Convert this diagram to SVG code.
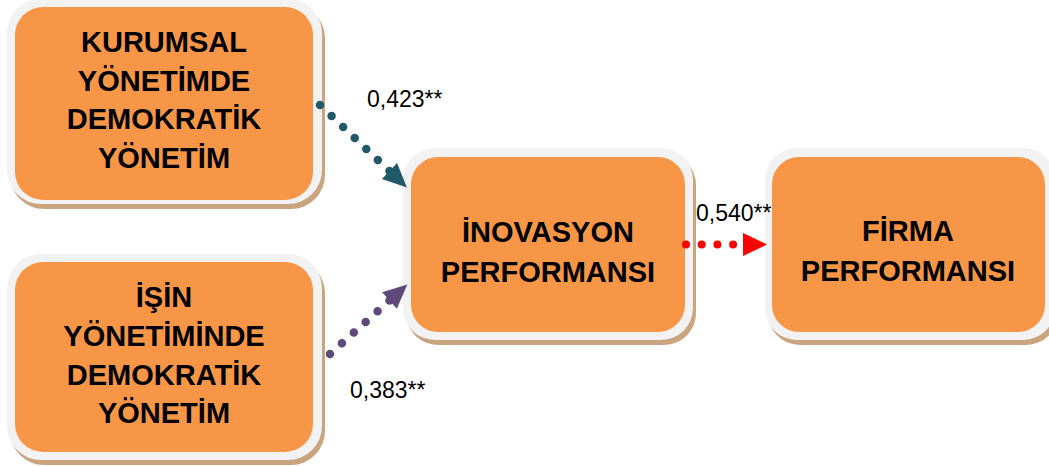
<svg xmlns="http://www.w3.org/2000/svg" width="1049" height="466" viewBox="0 0 1049 466">
<style>
.shadow{fill:#c9a47f}
.frame{fill:#f2f2f2}
.fill{fill:#f79646}
.t{font-family:"Liberation Sans",Arial,sans-serif;font-weight:bold;font-size:29px;fill:#000;text-anchor:middle}
.lbl{font-family:"Liberation Sans",Arial,sans-serif;font-size:23px;fill:#000}
.dot{fill:none;stroke-linecap:round}
</style>
<defs>
<marker id="hTeal" markerUnits="userSpaceOnUse" markerWidth="30" markerHeight="30" refX="0" refY="12" orient="auto" overflow="visible"><path d="M0,1 L24,12 L0,23 z" fill="#215968"/></marker>
<marker id="hPurple" markerUnits="userSpaceOnUse" markerWidth="30" markerHeight="30" refX="0" refY="12" orient="auto" overflow="visible"><path d="M0,1 L24,12 L0,23 z" fill="#5f497a"/></marker>
<marker id="hRed" markerUnits="userSpaceOnUse" markerWidth="30" markerHeight="30" refX="0" refY="12" orient="auto" overflow="visible"><path d="M0,0.5 L24,12 L0,23.5 z" fill="#ff0000"/></marker>
</defs>
<rect width="1049" height="466" fill="#fff"/>
<g id="node-kurumsal">
<rect class="shadow" x="10" y="4" width="315" height="205" rx="34"/>
<rect class="frame" x="7" y="-1" width="315" height="205" rx="34"/>
<rect class="fill" x="15" y="7" width="298" height="193" rx="28"/>
<text class="t" x="164" y="52">KURUMSAL</text>
<text class="t" x="164" y="91">YÖNETİMDE</text>
<text class="t" x="164" y="129">DEMOKRATİK</text>
<text class="t" x="164" y="168">YÖNETİM</text>
</g>
<g id="node-isin">
<rect class="shadow" x="10" y="259" width="315" height="206" rx="34"/>
<rect class="frame" x="7" y="254" width="315" height="206" rx="34"/>
<rect class="fill" x="15" y="262" width="298" height="190" rx="28"/>
<text class="t" x="164" y="307">İŞİN</text>
<text class="t" x="164" y="346">YÖNETİMİNDE</text>
<text class="t" x="164" y="385">DEMOKRATİK</text>
<text class="t" x="164" y="423">YÖNETİM</text>
</g>
<g id="node-inovasyon">
<rect class="shadow" x="406" y="153" width="290" height="192" rx="32"/>
<rect class="frame" x="403" y="148" width="290" height="192" rx="32"/>
<rect class="fill" x="411" y="157" width="274" height="175" rx="27"/>
<text class="t" x="548" y="242">İNOVASYON</text>
<text class="t" x="548" y="282">PERFORMANSI</text>
</g>
<g id="node-firma">
<rect class="shadow" x="768" y="153" width="290" height="192" rx="32"/>
<rect class="frame" x="765" y="148" width="290" height="192" rx="32"/>
<rect class="fill" x="772" y="157" width="273" height="175" rx="27"/>
<text class="t" x="908" y="241">FİRMA</text>
<text class="t" x="908" y="281">PERFORMANSI</text>
</g>
<g id="connectors">
<path class="dot" d="M320,105 L389.5,171" stroke="#215968" stroke-width="8.5" stroke-dasharray="0 15.96" marker-end="url(#hTeal)"/>
<path class="dot" d="M330,354 L389.5,300.5" stroke="#5f497a" stroke-width="8.5" stroke-dasharray="0 16" marker-end="url(#hPurple)"/>
<path class="dot" d="M686,244.5 L743,244.5" stroke="#ff0000" stroke-width="8" stroke-dasharray="0 15.7" marker-end="url(#hRed)"/>
<text class="lbl" x="367" y="107">0,423**</text>
<text class="lbl" x="350" y="398">0,383**</text>
<text class="lbl" x="696" y="221">0,540**</text>
</g>
</svg>
